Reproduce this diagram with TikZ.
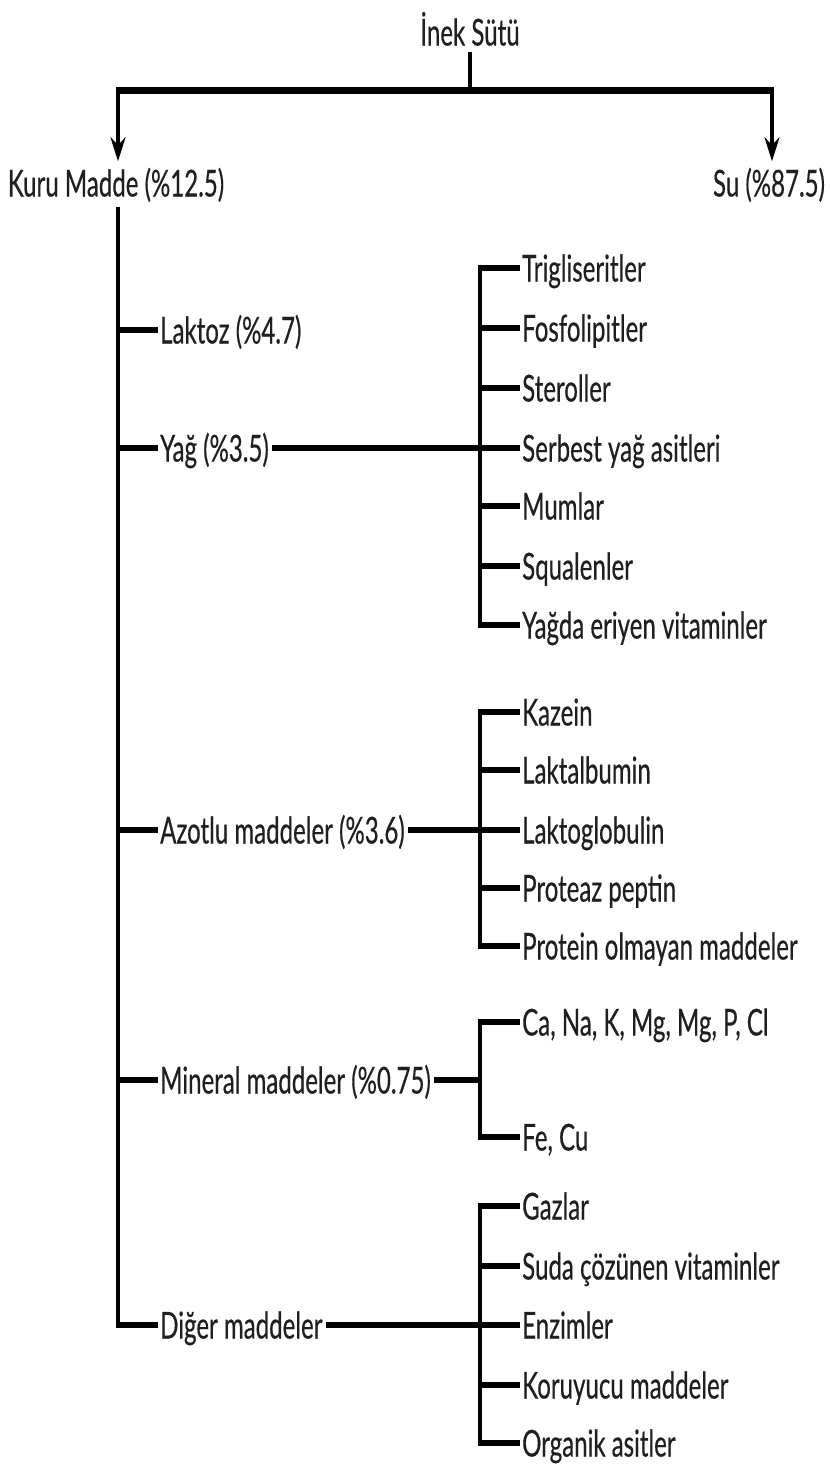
\documentclass[tikz,border=0pt]{standalone}
\usepackage{fontspec}
\setmainfont{Lato}[FakeStretch=0.65,FakeBold=0.4]
\usetikzlibrary{arrows.meta}
\begin{document}
\begin{tikzpicture}[x=1pt,y=-1pt,
  lbl/.style={anchor=west,inner sep=0pt,text height=27pt,text depth=0pt,
    font=\fontsize{37}{40}\selectfont,text=black!88},
  ctr/.style={lbl,anchor=center},
  hl/.style={line width=6pt,line cap=butt},
  vl/.style={line width=3.8pt,line cap=butt},
  bus/.style={vl,shorten <=-3pt,shorten >=-3pt},
  arr/.style={vl,-{Stealth[length=24pt,width=15pt]}}]
\useasboundingbox (0,0) rectangle (830,1470);
% top
\node[ctr] (inek) at (470,32) {İnek Sütü};
\node[ctr] (km) at (116,183) {Kuru Madde (\%12.5)};
\node[ctr] (su) at (769,183) {Su (\%87.5)};
\coordinate (split) at (470,90);
\coordinate (kb) at (118,0);
\coordinate (sb) at (772,0);
\draw[vl] ([yshift=-6pt]inek.south) -- (split);
\draw[line width=7pt] ([xshift=-1.9pt]kb |- split) -- ([xshift=1.9pt]sb |- split);
\draw[arr] (kb |- split) -- ([yshift=8pt]kb |- km.north);
\draw[arr] (sb |- split) -- ([yshift=8pt]sb |- su.north);
% level 1
\node[lbl] (lak) at (160,330) {Laktoz (\%4.7)};
\node[lbl] (yag) at (160,448) {Yağ (\%3.5)};
\node[lbl] (azo) at (160,830) {Azotlu maddeler (\%3.6)};
\node[lbl] (min) at (160,1080) {Mineral maddeler (\%0.75)};
\node[lbl] (dig) at (160,1325) {Diğer maddeler};
\draw[vl,shorten >=-3pt] ([yshift=-10pt]kb |- km.south) -- (kb |- dig.west);
\foreach \n in {lak,yag,azo,min,dig}
  \draw[hl] ([xshift=-1.9pt]kb |- \n.west) -- ([xshift=-2pt]\n.west);
% second-level bus
\coordinate (b2) at (480,0);
\coordinate (c2) at (522,0);
% Yağ children
\node[lbl] (y1) at (c2 |- 0,268) {Trigliseritler};
\node[lbl] (y2) at (c2 |- 0,328) {Fosfolipitler};
\node[lbl] (y3) at (c2 |- 0,388) {Steroller};
\node[lbl] (y4) at (c2 |- 0,448) {Serbest yağ asitleri};
\node[lbl] (y5) at (c2 |- 0,506) {Mumlar};
\node[lbl] (y6) at (c2 |- 0,566) {Squalenler};
\node[lbl] (y7) at (c2 |- 0,625) {Yağda eriyen vitaminler};
\draw[hl] ([xshift=3pt]yag.east) -- (b2 |- yag.east);
\draw[bus] (b2 |- y1.west) -- (b2 |- y7.west);
\foreach \n in {y1,y2,y3,y4,y5,y6,y7}
  \draw[hl] (b2 |- \n.west) -- ([xshift=-2pt]\n.west);
% Azotlu children
\node[lbl] (a1) at (c2 |- 0,712) {Kazein};
\node[lbl] (a2) at (c2 |- 0,770) {Laktalbumin};
\node[lbl] (a3) at (c2 |- 0,830) {Laktoglobulin};
\node[lbl] (a4) at (c2 |- 0,888) {Proteaz peptin};
\node[lbl] (a5) at (c2 |- 0,946) {Protein olmayan maddeler};
\draw[hl] ([xshift=3pt]azo.east) -- (b2 |- azo.east);
\draw[bus] (b2 |- a1.west) -- (b2 |- a5.west);
\foreach \n in {a1,a2,a3,a4,a5}
  \draw[hl] (b2 |- \n.west) -- ([xshift=-2pt]\n.west);
% Mineral children
\node[lbl] (m1) at (c2 |- 0,1022) {Ca, Na, K, Mg, Mg, P, Cl};
\node[lbl] (m2) at (c2 |- 0,1137) {Fe, Cu};
\draw[hl] ([xshift=3pt]min.east) -- (b2 |- min.east);
\draw[bus] (b2 |- m1.west) -- (b2 |- m2.west);
\foreach \n in {m1,m2}
  \draw[hl] (b2 |- \n.west) -- ([xshift=-2pt]\n.west);
% Diğer children
\node[lbl] (d1) at (c2 |- 0,1206) {Gazlar};
\node[lbl] (d2) at (c2 |- 0,1266) {Suda çözünen vitaminler};
\node[lbl] (d3) at (c2 |- 0,1325) {Enzimler};
\node[lbl] (d4) at (c2 |- 0,1385) {Koruyucu maddeler};
\node[lbl] (d5) at (c2 |- 0,1443) {Organik asitler};
\draw[hl] ([xshift=3pt]dig.east) -- (b2 |- dig.east);
\draw[bus] (b2 |- d1.west) -- (b2 |- d5.west);
\foreach \n in {d1,d2,d3,d4,d5}
  \draw[hl] (b2 |- \n.west) -- ([xshift=-2pt]\n.west);
\end{tikzpicture}
\end{document}
